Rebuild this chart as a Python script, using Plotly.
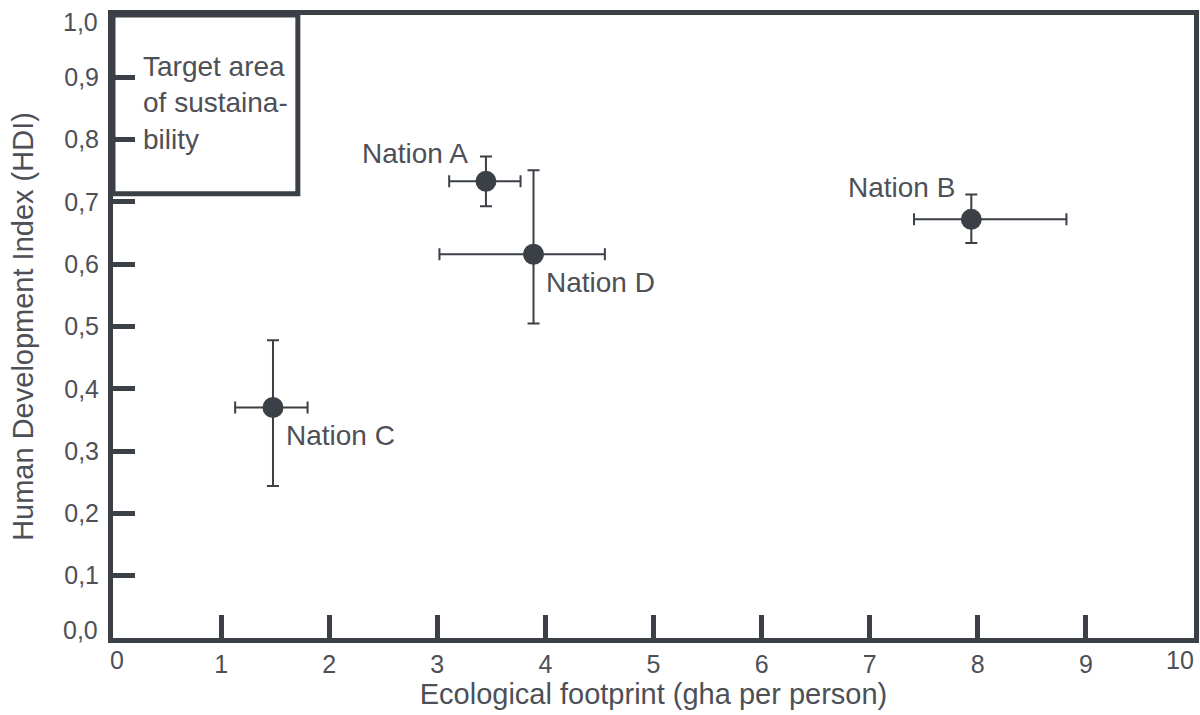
import plotly.graph_objects as go

# Data
nations = ["Nation A", "Nation B", "Nation C", "Nation D"]
footprint = [3.45, 7.94, 1.48, 3.89]
footprint_minus = [0.34, 0.53, 0.35, 0.87]
footprint_plus = [0.32, 0.88, 0.32, 0.66]
hdi = [0.733, 0.672, 0.370, 0.616]
hdi_plus = [0.040, 0.040, 0.108, 0.135]
hdi_minus = [0.040, 0.038, 0.126, 0.111]

x_ticks = list(range(0, 11))
x_ticklabels = [str(v) for v in x_ticks]
y_ticks = [i / 10 for i in range(0, 11)]
y_ticklabels = ["0,0", "0,1", "0,2", "0,3", "0,4", "0,5", "0,6", "0,7", "0,8", "0,9", "1,0"]

target_x = [0, 1.71]
target_y = [0.713, 1.0]
target_text = "Target area<br>of sustaina-<br>bility"

# label placement: (xanchor, xshift, yshift)
label_pos = {
    "Nation A": ("right", -16, 28),
    "Nation B": ("right", -14, 32),
    "Nation C": ("left", 11, -28),
    "Nation D": ("left", 10, -28),
}

DARK = "#3b3f46"
TEXT = "#4d5056"
FONT = "Liberation Sans, Arial, sans-serif"

fig = go.Figure()
fig.add_trace(go.Scatter(
    x=footprint, y=hdi, mode="markers",
    marker=dict(size=21, color=DARK),
    error_x=dict(type="data", symmetric=False, array=footprint_plus,
                 arrayminus=footprint_minus, color=DARK, thickness=2, width=6),
    error_y=dict(type="data", symmetric=False, array=hdi_plus,
                 arrayminus=hdi_minus, color=DARK, thickness=2, width=6),
    hoverinfo="skip", showlegend=False,
))

for name, xv, yv in zip(nations, footprint, hdi):
    anchor, xs, ys = label_pos[name]
    fig.add_annotation(x=xv, y=yv, text=name, showarrow=False,
                       xanchor=anchor, yanchor="middle", xshift=xs, yshift=ys,
                       font=dict(size=28, color=TEXT, family=FONT))

fig.add_shape(type="rect", x0=target_x[0], x1=target_x[1], y0=target_y[0], y1=target_y[1],
              line=dict(color=DARK, width=5), layer="above")
fig.add_annotation(x=target_x[0], y=target_y[1], text=target_text, showarrow=False,
                   xanchor="left", yanchor="top", align="left", xshift=28, yshift=-34,
                   font=dict(size=28, color=TEXT, family=FONT))

# edge tick labels, nudged inward as in the reference
tickfont = dict(size=25, color=TEXT, family=FONT)
fig.add_annotation(x=x_ticks[0], y=0, yref="paper", text=x_ticklabels[0], showarrow=False,
                   xanchor="center", yanchor="top", xshift=4, yshift=-6, font=tickfont)
fig.add_annotation(x=x_ticks[-1], y=0, yref="paper", text=x_ticklabels[-1], showarrow=False,
                   xanchor="right", yanchor="top", xshift=2, yshift=-6, font=tickfont)
fig.add_annotation(x=0, xref="paper", y=y_ticks[0], text=y_ticklabels[0], showarrow=False,
                   xanchor="right", yanchor="bottom", xshift=-13, yshift=-8, font=tickfont)
fig.add_annotation(x=0, xref="paper", y=y_ticks[-1], text=y_ticklabels[-1], showarrow=False,
                   xanchor="right", yanchor="top", xshift=-13, yshift=9, font=tickfont)

x_shown = [t if 0 < v < 10 else "" for v, t in zip(x_ticks, x_ticklabels)]
y_shown = [t if 0 < v < 1 else "" for v, t in zip(y_ticks, y_ticklabels)]

fig.update_layout(
    width=1200, height=715,
    margin=dict(l=113, r=6, t=15, b=77),
    plot_bgcolor="white", paper_bgcolor="white",
    font=dict(family=FONT, color=TEXT),
    hovermode=False,
    xaxis=dict(range=[0, 10], tickvals=x_ticks, ticktext=x_shown, automargin=False,
               showgrid=False, zeroline=False, showline=True, linecolor=DARK, linewidth=5,
               mirror=True, ticks="inside", ticklen=23, tickwidth=5, tickcolor=DARK,
               tickfont=tickfont,
               title=dict(text="Ecological footprint (gha per person)",
                          font=dict(size=29, color=TEXT), standoff=4)),
    yaxis=dict(range=[0, 1], tickvals=y_ticks, ticktext=y_shown, automargin=False,
               showgrid=False, zeroline=False, showline=True, linecolor=DARK, linewidth=5,
               mirror=True, ticks="inside", ticklen=22, tickwidth=5, tickcolor=DARK,
               tickfont=tickfont, ticklabelstandoff=4,
               title=dict(text="Human Development Index (HDI)",
                          font=dict(size=29, color=TEXT), standoff=24)),
)

fig.write_html("out.html", config={"displayModeBar": False},
               post_script="document.body.style.margin='0';")
